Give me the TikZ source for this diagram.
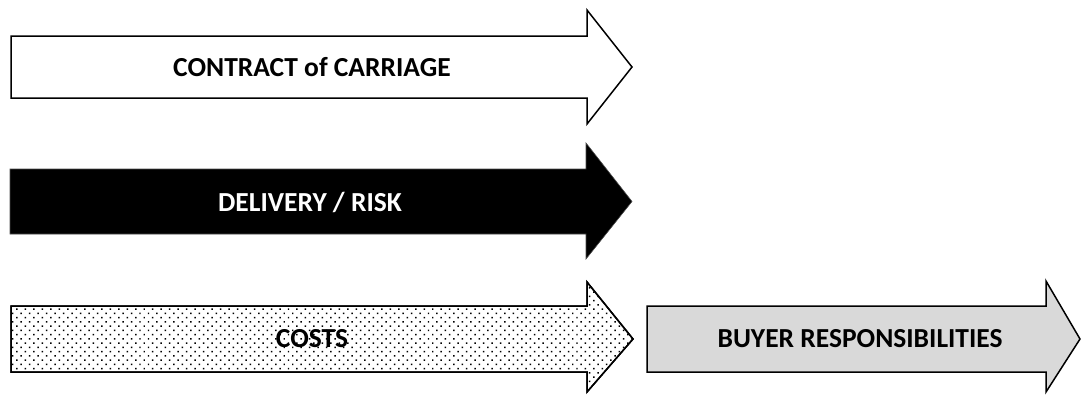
\documentclass[tikz,border=0pt]{standalone}
\usepackage{fontspec}
\setmainfont{Carlito}
\usetikzlibrary{patterns.meta}
\definecolor{buyergray}{HTML}{D9D9D9}
\tikzset{
  arrowline/.style={draw=black, line width=1.5pt, line join=miter},
  label/.style={font=\bfseries\fontsize{27.5}{32}\selectfont, inner sep=0pt},
  dotfill/.style={pattern={Dots[distance=6pt, radius=1.05pt, angle=45]}, pattern color=black},
}
% block arrow: #1 left x, #2 body top, #3 body bottom, #4 head base x,
% #5 head top, #6 head bottom, #7 tip x
\newcommand{\blockarrowpath}[7]{%
  (#1,#2) -- (#4,#2) -- (#4,#5) -- (#7,{(#2+#3)/2}) -- (#4,#6) -- (#4,#3) -- (#1,#3) -- cycle}
\begin{document}
\begin{tikzpicture}[x=1pt,y=-1pt]
  \useasboundingbox (0,0) rectangle (1082,394);

  % contract of carriage
  \path[arrowline, fill=white] \blockarrowpath{11}{36}{98}{587}{10}{124}{632};
  \node[label] (contract) at (312,67) {CONTRACT of CARRIAGE};

  % delivery / risk
  \path[fill=black, draw=black!70, line width=0.6pt] \blockarrowpath{10}{169}{234}{586}{143}{259}{632};
  \node[label, text=white] (delivery) at (310,202) {DELIVERY / RISK};

  % costs
  \path[arrowline, fill=white] \blockarrowpath{11}{306}{372}{587}{282}{392}{633};
  \path[dotfill] \blockarrowpath{11}{306}{372}{587}{282}{392}{633};
  \path[arrowline] \blockarrowpath{11}{306}{372}{587}{282}{392}{633};
  \node[label] (costs) at (312,339) {COSTS};

  % buyer responsibilities
  \path[arrowline, fill=buyergray] \blockarrowpath{647}{306}{372}{1046}{281}{392}{1080};
  \node[label] (buyer) at (860,339) {BUYER RESPONSIBILITIES};
\end{tikzpicture}
\end{document}
